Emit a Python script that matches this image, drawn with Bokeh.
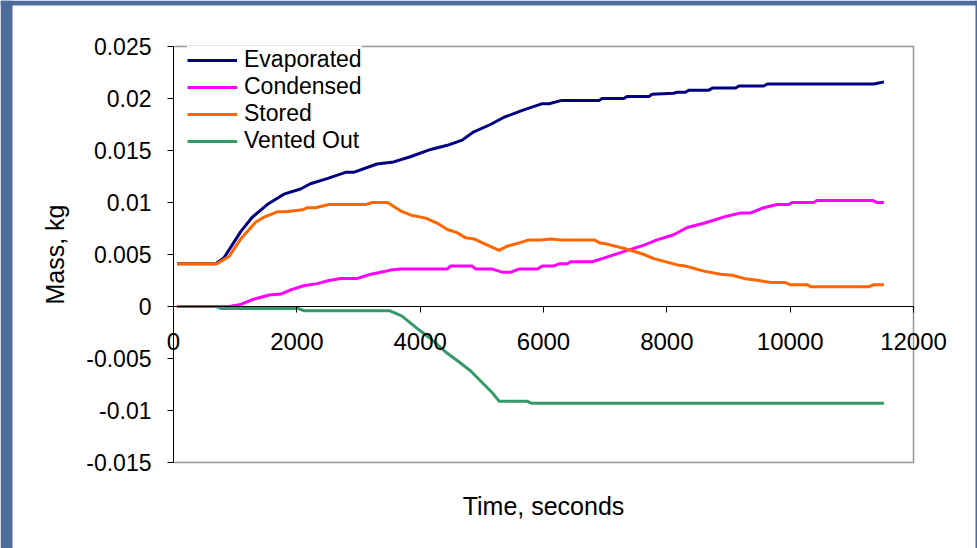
import math
from bokeh.plotting import figure
from bokeh.models import (FixedTicker, CustomJSTickFormatter, Range1d, Legend, Label,
                          BoxAnnotation)
from bokeh.embed import file_html
from bokeh.resources import INLINE

FONT = "Liberation Sans"

# ---- data ----
x_ticks = [0, 2000, 4000, 6000, 8000, 10000, 12000]
y_ticks = [-0.015, -0.01, -0.005, 0, 0.005, 0.01, 0.015, 0.02, 0.025]

time_evap = [60, 680, 820, 950, 1090, 1280, 1520, 1790, 2060, 2220, 2490, 2790, 2920,
             3300, 3570, 3840, 4170, 4440, 4680, 4870, 5140, 5360, 5680, 5980, 6090,
             6280, 6900, 6950, 7300, 7360, 7710, 7760, 8110, 8170, 8300, 8360, 8680,
             8740, 9110, 9170, 9570, 9630, 11360, 11520]
evaporated = [0.0041, 0.0041, 0.0047, 0.0059, 0.0072, 0.0086, 0.0098, 0.0108, 0.0113,
              0.0118, 0.0123, 0.0129, 0.0129, 0.0137, 0.0139, 0.0144, 0.0151, 0.0155,
              0.0160, 0.0168, 0.0175, 0.0182, 0.0189, 0.0195, 0.0195, 0.0198, 0.0198,
              0.0200, 0.0200, 0.0202, 0.0202, 0.0204, 0.0205, 0.0206, 0.0206, 0.0208,
              0.0208, 0.0210, 0.0210, 0.0212, 0.0212, 0.0214, 0.0214, 0.0216]

time_cond = [60, 820, 900, 1090, 1300, 1550, 1740, 1900, 2110, 2330, 2520, 2710, 2980,
             3200, 3360, 3520, 3680, 4440, 4490, 4840, 4900, 5170, 5330, 5470, 5600,
             5900, 5980, 6170, 6250, 6380, 6440, 6790, 7000, 7360, 7630, 7840, 8110,
             8330, 8600, 8920, 9200, 9360, 9570, 9790, 9980, 10030, 10380, 10440,
             11330, 11410, 11520]
condensed = [0, 0, 0, 0.0002, 0.0007, 0.0011, 0.0012, 0.0016, 0.0020, 0.0022, 0.0025,
             0.0027, 0.0027, 0.0031, 0.0033, 0.0035, 0.0036, 0.0036, 0.0039, 0.0039,
             0.0036, 0.0036, 0.0033, 0.0033, 0.0036, 0.0036, 0.0039, 0.0039, 0.0041,
             0.0041, 0.0043, 0.0043, 0.0047, 0.0054, 0.0059, 0.0064, 0.0069, 0.0076,
             0.0080, 0.0086, 0.0090, 0.0090, 0.0095, 0.0098, 0.0098, 0.0100, 0.0100,
             0.0102, 0.0102, 0.0100, 0.0100]

time_stor = [60, 700, 900, 1090, 1330, 1470, 1680, 1820, 2090, 2170, 2300, 2520, 3110,
             3220, 3470, 3680, 3840, 4090, 4280, 4440, 4600, 4740, 4870, 5090, 5280,
             5410, 5600, 5760, 5950, 6110, 6280, 6380, 6820, 6920, 7030, 7360, 7630,
             7790, 8170, 8300, 8600, 8870, 9060, 9250, 9490, 9680, 9920, 10000, 10280,
             10330, 11280, 11360, 11520]
stored = [0.0041, 0.0041, 0.0048, 0.0065, 0.0081, 0.0086, 0.0091, 0.0091, 0.0093,
          0.0095, 0.0095, 0.0098, 0.0098, 0.0100, 0.0100, 0.0092, 0.0088, 0.0085,
          0.0080, 0.0074, 0.0071, 0.0066, 0.0065, 0.0059, 0.0054, 0.0058, 0.0061,
          0.0064, 0.0064, 0.0065, 0.0064, 0.0064, 0.0064, 0.0061, 0.0060, 0.0055,
          0.0050, 0.0046, 0.0040, 0.0039, 0.0034, 0.0031, 0.0030, 0.0027, 0.0025,
          0.0023, 0.0023, 0.0021, 0.0021, 0.0019, 0.0019, 0.0021, 0.0021]

time_vent = [60, 700, 780, 2030, 2110, 3500, 3700, 3950, 4150, 4440, 4600, 4820, 5020,
             5170, 5280, 5730, 5800, 11520]
vented_out = [0, 0, -0.0002, -0.0002, -0.0004, -0.0004, -0.0009, -0.0021, -0.0030,
              -0.0045, -0.0052, -0.0062, -0.0074, -0.0083, -0.0091, -0.0091, -0.0093,
              -0.0093]

series = [
    ("Evaporated", time_evap, evaporated, "#000080"),
    ("Condensed", time_cond, condensed, "#FF00FF"),
    ("Stored", time_stor, stored, "#FF6600"),
    ("Vented Out", time_vent, vented_out, "#339966"),
]

# ---- layout: the whole canvas is the frame; the chart box sits at these pixels ----
W, H = 977, 548
BOX_L, BOX_R, BOX_T, BOX_B = 173, 913, 46, 462
x0, x1 = x_ticks[0], x_ticks[-1]
y0, y1 = y_ticks[0], y_ticks[-1]
dx = (x1 - x0) / (BOX_R - BOX_L)
dy = (y1 - y0) / (BOX_B - BOX_T)
x_range = Range1d(x0 - BOX_L * dx, x1 + (W - BOX_R) * dx)
y_range = Range1d(y0 - (H - BOX_B) * dy, y1 + BOX_T * dy)

p = figure(width=W, height=H, output_backend="svg", toolbar_location=None,
           x_range=x_range, y_range=y_range,
           min_border_left=0, min_border_right=0, min_border_top=0,
           min_border_bottom=0)
p.background_fill_color = "white"
p.border_fill_color = "white"
p.outline_line_color = None
p.grid.visible = False

# slide background strips at the page edges
SLIDE = "#4d6c9c"
for l, r, b, t in [(0, 12, 0, H), (0, W, H - 5, H), (W - 2, W, 0, H)]:
    p.add_layout(BoxAnnotation(left=l, right=r, bottom=b, top=t,
                               left_units="screen", right_units="screen",
                               bottom_units="screen", top_units="screen",
                               fill_color=SLIDE, fill_alpha=1.0, line_color=None,
                               level="underlay"))

# chart box (top, right, bottom edges; left edge is the y axis)
p.line([x0, x1, x1, x0], [y1, y1, y0, y0], line_color="#969696", line_width=1.5)

items = []
for name, xs, ys, col in series:
    r = p.line(xs, ys, line_color=col, line_width=3, line_join="round")
    items.append((name, [r]))

# y axis at x = 0
ya = p.yaxis[0]
ya.fixed_location = x0
ya.bounds = (y0, y1)
ya.ticker = FixedTicker(ticks=y_ticks)
ya.formatter = CustomJSTickFormatter(code="return tick.toString()")
ya.major_tick_out = 6
ya.major_tick_in = 0
ya.minor_tick_line_color = None
ya.axis_line_color = "black"
ya.major_tick_line_color = "black"
ya.major_label_text_font = FONT
ya.major_label_text_font_size = "23px"
ya.major_label_text_color = "black"
ya.major_label_standoff = 16

# x axis crossing at y = 0
xa = p.xaxis[0]
xa.fixed_location = 0
xa.bounds = (x0, x1)
xa.ticker = FixedTicker(ticks=x_ticks)
xa.major_tick_out = 6
xa.major_tick_in = 0
xa.minor_tick_line_color = None
xa.axis_line_color = "black"
xa.major_tick_line_color = "black"
xa.major_label_text_font = FONT
xa.major_label_text_font_size = "24px"
xa.major_label_text_color = "black"
xa.major_label_standoff = 20

# axis titles
p.add_layout(Label(x=(x0 + x1) / 2, y=y0, y_offset=-43, text="Time, seconds",
                   text_align="center", text_baseline="middle", text_font=FONT,
                   text_font_size="25px", text_color="black"))
p.add_layout(Label(x=x0, y=(y0 + y1) / 2, x_offset=-119, text="Mass, kg",
                   angle=math.pi / 2, text_align="center", text_baseline="middle",
                   text_font=FONT, text_font_size="25px", text_color="black"))

legend = Legend(items=items, location=(187, 394), padding=6, margin=0,
                spacing=0, glyph_width=50, glyph_height=20, label_standoff=7,
                label_height=20, label_text_line_height=1.0,
                label_text_font=FONT, label_text_font_size="23px",
                label_text_color="black", border_line_color=None,
                background_fill_color="white", background_fill_alpha=1.0)
p.add_layout(legend)

open("out.html", "w").write(file_html(p, INLINE))
